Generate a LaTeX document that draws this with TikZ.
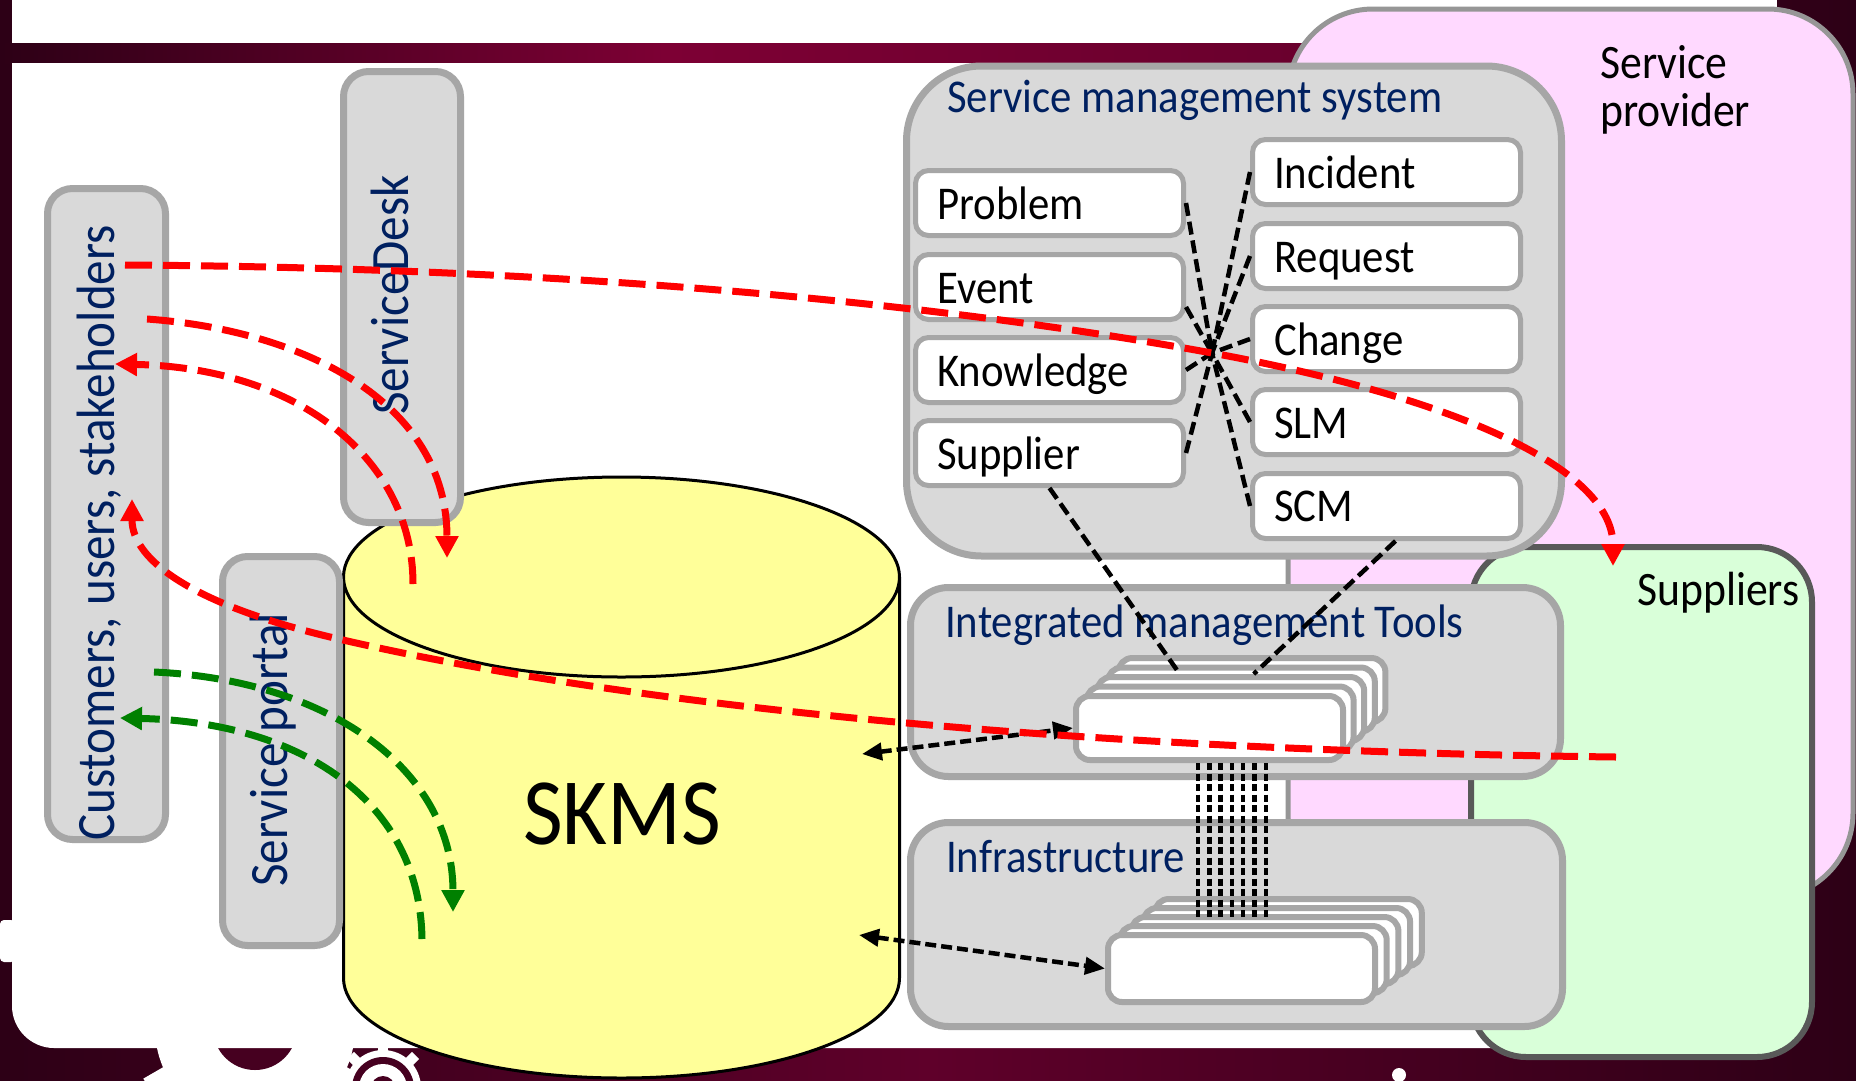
\documentclass[tikz,border=0pt]{standalone}
\usepackage{fontspec}
\setmainfont{Carlito}[FakeStretch=0.91]
\usetikzlibrary{arrows.meta,calc}

\definecolor{slidedark}{RGB}{45,0,22}
\definecolor{slidemid}{RGB}{95,0,42}
\definecolor{slidehole}{RGB}{70,0,32}
\definecolor{bandmid}{RGB}{125,0,52}
\definecolor{bandright}{RGB}{105,0,45}
\definecolor{panelfill}{RGB}{217,217,217}
\definecolor{panelline}{RGB}{166,166,166}
\definecolor{navy}{RGB}{0,32,96}
\definecolor{provfill}{RGB}{255,217,255}
\definecolor{provline}{RGB}{150,150,150}
\definecolor{suppfill}{RGB}{217,255,217}
\definecolor{suppline}{RGB}{89,89,89}
\definecolor{dbyellow}{RGB}{255,255,153}
\definecolor{flowred}{RGB}{255,0,0}
\definecolor{flowgreen}{RGB}{0,128,0}

\tikzset{
  panel/.style={fill=panelfill, draw=panelline, line width=7pt, inner sep=0pt},
  item/.style={fill=white, draw=panelline, line width=5pt, rounded corners=13pt,
    minimum width=268pt, minimum height=65pt, inner sep=0pt},
  layer/.style={fill=white, draw=panelline, line width=6pt, rounded corners=14pt,
    minimum width=267pt, inner sep=0pt},
  headtext/.style={anchor=base west, text=navy, font=\fontsize{47}{56}\selectfont, inner sep=0pt},
  boxtext/.style={anchor=base west, text=black, font=\fontsize{47}{56}\selectfont, inner sep=0pt},
  sidetext/.style={anchor=base west, rotate=90, text=navy, font=\fontsize{54}{60}\selectfont, inner sep=0pt},
  link/.style={draw=black, line width=4.5pt, dash pattern=on 13pt off 6pt},
  bus/.style={draw=black, line width=4.5pt, dash pattern=on 7pt off 3.5pt},
  access/.style={draw=black, line width=4.5pt, dash pattern=on 11pt off 5pt,
    arrows={Triangle[length=20pt,width=17pt]-Triangle[length=20pt,width=17pt]}},
  redflow/.style={draw=flowred, line width=7pt, dash pattern=on 27pt off 11pt,
    arrows={-Triangle[length=22pt,width=22pt]}},
  greenflow/.style={draw=flowgreen, line width=7pt, dash pattern=on 27pt off 11pt,
    arrows={-Triangle[length=22pt,width=22pt]}},
}

\begin{document}
\begin{tikzpicture}[x=1pt,y=-1pt]
\useasboundingbox (0,0) rectangle (1856,1080);

% slide backdrop
\shade[left color=slidedark, right color=slidedark, middle color=slidemid] (0,0) rectangle (1856,1080);

% gear emblem at the bottom edge
\fill[white] (255,1028) circle [radius=100];
\foreach \a in {0,30,...,330}
  \fill[white, rotate around={\a:(255,1028)}] (243,1028) rectangle (267,1150);
\fill[slidehole] (255,1028) circle [radius=42];
\fill[white] (383,1088) circle [radius=38];
\foreach \a in {0,45,...,315}
  \fill[white, rotate around={\a:(383,1088)}] (378,1088) rectangle (388,1134);
\fill[slidehole] (383,1088) circle [radius=31];
\fill[white] (383,1088) circle [radius=24];
\fill[slidehole] (383,1088) circle [radius=12];
\fill[white, rounded corners=4pt] (0,920) rectangle (15,962);
\fill[white] (1399,1075) circle [radius=7];

% white slide areas and title band
\fill[white] (12,0) rectangle (1777,43);
\shade[left color=slidedark, right color=bandright, middle color=bandmid] (0,43) rectangle (1330,63);
\fill[white] (12,63) -- (12,1006) .. controls (12,1029) and (31,1048) .. (54,1048)
  -- (1777,1048) -- (1777,63) -- cycle;

% provider and supplier domains
\filldraw[fill=provfill, draw=provline, line width=5pt, rounded corners=85pt] (1288,9) rectangle (1853,898);
\node[boxtext, font=\fontsize{48}{56}\selectfont] (provname) at (1600,78) {Service};
\node[boxtext, font=\fontsize{48}{56}\selectfont] (provname2) at (1600,126) {provider};
\node[fill=suppfill, draw=suppline, line width=6pt, rounded corners=55pt,
  minimum width=341pt, minimum height=510pt, inner sep=0pt] (suppliers) at (1641.5,802) {};
\node[boxtext, font=\fontsize{48}{56}\selectfont] (supptext) at (1637,605) {Suppliers};

% service management system
\node[panel, rounded corners=75pt, minimum width=655pt, minimum height=490pt] (sms) at (1234,311) {};
\node[headtext] (smstitle) at (947,112) {Service management system};

\node[item] (pb) at (1049.5,203) {};
\node[item] (ev) at (1049.5,287) {};
\node[item] (kn) at (1049.5,370) {};
\node[item] (su) at (1049.5,453) {};
\node[item] (in) at (1386.5,172) {};
\node[item] (rq) at (1386.5,256) {};
\node[item] (ch) at (1386.5,339) {};
\node[item] (sl) at (1386.5,422) {};
\node[item] (sc) at (1386.5,506) {};
\node[boxtext] (pbt) at (937,219) {Problem};
\node[boxtext] (evt) at (937,303) {Event};
\node[boxtext] (knt) at (937,386) {Knowledge};
\node[boxtext] (sut) at (937,469) {Supplier};
\node[boxtext] (int) at (1274,188) {Incident};
\node[boxtext] (rqt) at (1274,272) {Request};
\node[boxtext] (cht) at (1274,355) {Change};
\node[boxtext] (slt) at (1274,438) {SLM};
\node[boxtext] (sct) at (1274,521) {SCM};

% integrated management tools
\node[panel, rounded corners=38pt, minimum width=650pt, minimum height=189pt] (tools) at (1235.5,682) {};
\node[headtext] (toolstitle) at (945,637) {Integrated management Tools};
\foreach \k in {4,3,2,1}
  \node[layer, minimum height=64pt] (toolslayer\k) at ({1209.5+10.6*\k},{728-9.5*\k}) {};
\node[layer, minimum height=64pt] (toolsfront) at (1209.5,728) {};

% infrastructure
\node[panel, rounded corners=38pt, minimum width=652pt, minimum height=204pt] (infra) at (1236.5,924.5) {};
\node[headtext] (infratitle) at (946,872) {Infrastructure};
\foreach \k in {4,3,2,1}
  \node[layer, minimum height=67pt] (infralayer\k) at ({1241.5+11.7*\k},{968.5-9*\k}) {};
\node[layer, minimum height=67pt] (infrafront) at (1241.5,968.5) {};

% SKMS database
\fill[dbyellow] (343.5,577) -- (343.5,978) .. controls (343.5,1033.2) and (468,1078) .. (621.5,1078)
  .. controls (775,1078) and (899.5,1033.2) .. (899.5,978) -- (899.5,577) -- cycle;
\draw[black, line width=3pt] (343.5,577) -- (343.5,978) .. controls (343.5,1033.2) and (468,1078) .. (621.5,1078)
  .. controls (775,1078) and (899.5,1033.2) .. (899.5,978) -- (899.5,577);
\filldraw[fill=dbyellow, draw=black, line width=3pt] (621.5,577) ellipse [x radius=278, y radius=100];
\node[boxtext, font=\fontsize{95}{100}\selectfont] (skms) at (523,844) {SKMS};

% customer-facing panels
\node[panel, rounded corners=25pt, minimum width=118pt, minimum height=651pt] (cust) at (106.5,514) {};
\node[panel, rounded corners=25pt, minimum width=117pt, minimum height=451pt] (desk) at (402,297) {};
\node[panel, rounded corners=25pt, minimum width=117pt, minimum height=389pt] (portal) at (281,751) {};
\node[sidetext] (custtext) at (114,841) {Customers, users, stakeholders};
\node[sidetext] (desktext) at (408,415) {ServiceDesk};
\node[sidetext] (portaltext) at (287,887) {Service portal};

% process links inside the management system
\coordinate (hub) at (1212,353);
\draw[link] (pb.east) -- (hub);
\draw[link] ($(ev.east)+(0,20)$) -- (hub);
\draw[link] (kn.east) -- (hub);
\draw[link] (su.east) -- (hub);
\draw[link] (in.west) -- (hub);
\draw[link] (rq.west) -- (hub);
\draw[link] (ch.west) -- (hub);
\draw[link] (sl.west) -- (hub);
\draw[link] (sc.west) -- (hub);
\draw[link] (su.south) -- ($(toolslayer2.north)+(-51,0)$);
\draw[link] ($(sc.south)+(9,0)$) -- ($(toolslayer2.north)+(23,0)$);

% tools to infrastructure bus
\foreach \i in {0,...,6}
  \draw[bus] ($(toolsfront.south)+({-11.5+11.3*\i},0)$) -- ++(0,157);

% database access
\coordinate (dbtools) at (862,754);
\coordinate (dbinfra) at (859,935);
\draw[access] (dbtools) -- (toolsfront.west);
\draw[access] (dbinfra) -- (infrafront.west);

% information flows
\coordinate (r1s) at (125,265);
\coordinate (r1e) at (1613,566);
\coordinate (r2s) at (147,319);
\coordinate (r2e) at (447,558);
\coordinate (r3s) at (413,584);
\coordinate (r3e) at (115,364);
\coordinate (r4s) at (1616,757);
\coordinate (r4m) at (343,640);
\coordinate (r4e) at (132,499);
\coordinate (g1s) at (154,672);
\coordinate (g1e) at (453,912);
\coordinate (g2s) at (422,939);
\coordinate (g2e) at (120,718);

\draw[greenflow] (g1s) .. controls (330,680) and (453,770) .. (g1e);
\draw[greenflow] (g2s) .. controls (420,800) and (300,722) .. (g2e);
\draw[redflow] (r2s) .. controls (300,330) and (447,400) .. (r2e);
\draw[redflow] (r3s) .. controls (413,460) and (300,368) .. (r3e);
\draw[redflow] (r4s) .. controls (1200,752) and (700,722) .. (r4m) .. controls (193,606) and (132,560) .. (r4e);
\draw[redflow] (r1s) .. controls (600,268) and (960,307) .. (hub) .. controls (1462,399) and (1613,470) .. (r1e);
\end{tikzpicture}
\end{document}
